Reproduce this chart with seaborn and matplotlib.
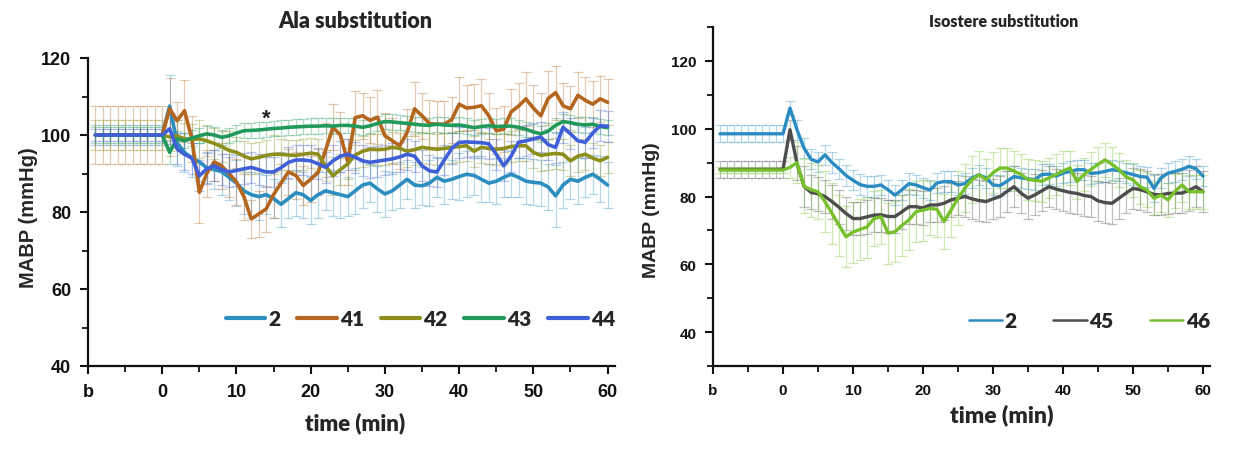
import numpy as np
import pandas as pd
import matplotlib
matplotlib.use("Agg")
import matplotlib.pyplot as plt
from matplotlib.ticker import MultipleLocator, FixedLocator
import seaborn as sns

# ---------------- data ----------------
base_times = [-9, -8, -7, -6, -5, -4, -3, -2, -1, 0]
times = list(range(1, 61))
xtick_pos = [-10, 0, 10, 20, 30, 40, 50, 60]
xtick_labels = ["b", "0", "10", "20", "30", "40", "50", "60"]

# Ala substitution panel
ala_names = ["2", "41", "42", "43", "44"]
ala_colors = ["#2c8dbf", "#b5661e", "#8e8e1d", "#21995b", "#3f5fd8"]
ala_base = [100, 100, 100, 100, 100]
ala_base_err = [2.5, 7.5, 4.0, 2.0, 1.5]

ala_2 = [107.5, 98, 95.5, 94, 93, 91.5, 91, 90.5, 89, 87.5,
         85.5, 84.5, 84, 84.5, 83.5, 82, 83.5, 85, 84.5, 83,
         84.5, 85.5, 85, 84.5, 84, 85.5, 87, 87.5, 86, 84.7,
         85.5, 87, 88.5, 87, 86.8, 87.5, 89, 88, 88.5, 89.2,
         89.8, 89.5, 88.5, 87.5, 88, 89, 89.8, 89, 88, 87.7,
         87.5, 86.5, 84.2, 87, 88.5, 88, 89, 89.8, 88.5, 87]
ala_41 = [106.8, 103.7, 106.3, 99, 85.1, 90, 93, 92, 90, 87.8,
          84, 78.2, 79.5, 80.8, 84.5, 87.5, 90.4, 89.5, 86.9, 88.5,
          90.3, 96, 102, 100, 93, 104.5, 105, 103.8, 104.6, 99.8,
          98.5, 97.2, 100.7, 106.8, 105, 103, 102.8, 102.8, 104, 108,
          107, 107.2, 107.6, 105, 101.1, 101.5, 106, 107.5, 109.4, 107,
          105, 109.5, 111, 107.6, 106.8, 110.3, 109, 108, 109.4, 108.5]
ala_42 = [99.5, 99.8, 99, 98.8, 99, 98.5, 97.8, 97, 96, 95.5,
          94.5, 93.8, 94.2, 94.7, 95, 95, 94.8, 94.7, 95, 95.3,
          95, 92, 89.4, 91, 92.5, 94.8, 95.8, 96.3, 96.2, 96.3,
          96.8, 96.5, 95.8, 96.2, 96.8, 96.5, 96.3, 96.5, 96.8, 97,
          97.2, 95.8, 96.8, 96.5, 96.3, 96.5, 97, 97.2, 97.2, 95.5,
          94.7, 95, 95.2, 95, 93.3, 94.5, 95, 94, 93.3, 94.2]
ala_43 = [95.5, 99, 98.5, 99.2, 99.8, 100.3, 100, 99.4, 99.8, 100.5,
          101.1, 101.2, 101.3, 101.5, 101.7, 101.8, 102, 102.1, 102.2, 102.3,
          102.3, 102.4, 102.3, 102.5, 102.5, 102.3, 102, 102.4, 103, 103.5,
          103.4, 103.2, 103, 102.8, 102.6, 102.5, 102.8, 102.6, 102.5, 102.6,
          102.3, 101.9, 102.2, 102.4, 102.2, 102.3, 102.3, 102, 101.5, 100.8,
          100.3, 101, 102.5, 103.5, 103.2, 102.8, 102.6, 102.8, 102.2, 101.9]
ala_44 = [101.6, 96.4, 95, 94, 89.4, 91.2, 92, 91, 90.4, 90.8,
          91.2, 91.6, 91, 90.4, 90.4, 91.5, 92.9, 93.5, 93.5, 93.3,
          92.5, 91.6, 93.3, 94.5, 95, 94.2, 93.3, 92.9, 93.2, 93.5,
          93.8, 94.3, 95, 94.5, 92, 90.7, 90.4, 93.5, 96.5, 98.1,
          98.2, 98.1, 98, 97.7, 95, 92, 94.5, 98.1, 98.5, 99,
          99.5, 97.5, 96.8, 102, 100.3, 98.5, 98.1, 100.5, 102.4, 102.3]

ala_2_err = [8, 6, 5, 5, 5, 4, 5, 6, 6, 6,
             6, 6, 6, 5, 5, 6, 5, 6, 6, 6,
             6, 5, 6, 6, 5, 6, 6, 5, 6, 6,
             5, 6, 5, 6, 5, 6, 5, 6, 5, 6,
             6, 5, 6, 5, 6, 5, 6, 5, 6, 6,
             6, 6, 8, 6, 5, 6, 5, 5, 6, 6]
ala_41_err = [8, 5, 8, 6, 8, 6, 5, 6, 6, 6,
              6, 5, 6, 6, 6, 5, 6, 6, 5, 6,
              6, 7, 6, 6, 6, 7, 6, 6, 7, 6,
              6, 6, 6, 7, 6, 6, 6, 6, 6, 7,
              6, 6, 7, 6, 6, 6, 6, 6, 7, 6,
              6, 7, 7, 6, 6, 6, 6, 6, 6, 6]
ala_42_err = [5, 4, 4, 4, 5, 4, 4, 4, 5, 4,
              4, 4, 4, 4, 5, 4, 4, 4, 4, 4,
              4, 4, 5, 4, 4, 4, 4, 4, 4, 4,
              4, 4, 4, 4, 4, 4, 4, 4, 4, 4,
              4, 4, 4, 4, 4, 4, 4, 4, 4, 4,
              4, 4, 4, 4, 4, 4, 4, 4, 4, 4]
ala_43_err = [3, 2, 2, 2, 2, 2, 2, 2, 2, 2,
              2, 2, 2, 2, 2, 2, 2, 2, 2, 2,
              2, 2, 2, 2, 2, 2, 2, 2, 2, 2,
              2, 2, 2, 2, 2, 2, 2, 2, 2, 2,
              2, 2, 2, 2, 2, 2, 2, 2, 2, 2,
              2, 2, 2, 2, 2, 2, 2, 2, 2, 2]
ala_44_err = [4, 4, 4, 4, 4, 4, 4, 4, 4, 4,
              4, 4, 4, 4, 4, 4, 4, 4, 4, 4,
              4, 4, 4, 4, 4, 4, 4, 4, 4, 4,
              4, 4, 4, 4, 4, 4, 4, 4, 4, 4,
              4, 4, 4, 4, 4, 4, 4, 4, 4, 4,
              4, 4, 4, 4, 4, 4, 4, 4, 4, 4]

# Isostere substitution panel
iso_names = ["2", "45", "46"]
iso_colors = ["#2b8cc4", "#4d4d4d", "#76c02c"]
iso_base = [98.5, 88.0, 87.8]
iso_base_err = [2.5, 2.5, 1.0]

iso_2 = [106.1, 99.7, 94.3, 91, 90.2, 92.3, 90, 88.2, 86.2, 84.8,
         83.5, 83, 83, 83.4, 82, 80.4, 82, 83.8, 83.4, 82.6,
         81.9, 84, 84.4, 84.4, 83.4, 83.8, 85.5, 86.4, 85.5, 83.4,
         83.2, 84.5, 85.9, 85.5, 85.2, 85, 86.5, 86.6, 86, 86.9,
         87.4, 87.9, 87.9, 86.8, 87, 87.4, 87.9, 87.6, 87, 86.5,
         85.9, 85.7, 82.4, 85.5, 86.9, 87.4, 88, 88.9, 88.2, 86]
iso_45 = [99.7, 89.8, 83, 81.2, 80.8, 80, 78.5, 76.8, 75, 73.5,
          73.5, 74, 74.5, 74.6, 74.1, 74.1, 75.5, 77, 77, 76.6,
          77.5, 77.5, 78, 79, 79.5, 80, 79.3, 78.8, 78.5, 79.3,
          80, 81.5, 82.9, 81, 79.5, 80.5, 81.7, 82.9, 82.2, 81.7,
          81.2, 80.9, 80.3, 80, 78.7, 78.2, 78, 79.5, 81, 82.4,
          82, 81.4, 80.6, 80.5, 80.9, 81, 81, 81.8, 82.9, 81.4]
iso_46 = [88.6, 90, 83, 82, 81.4, 78.5, 75, 71.5, 68.1, 69.5,
          70.3, 71, 73.5, 74, 69.2, 69.6, 71.5, 73.1, 75.5, 76,
          76.5, 76.2, 72.6, 76, 79.5, 82.5, 85, 86.4, 85, 87,
          88.4, 88.4, 87.5, 86.5, 85, 84.8, 84.5, 85.5, 86.5, 87.5,
          88.4, 84.4, 86.5, 88, 89.5, 90.8, 89.5, 87.9, 85.8, 84.9,
          82.9, 81.9, 79.5, 80.4, 79, 81.5, 83.4, 81.4, 81.4, 81.4]

iso_2_err = [2, 3, 3, 3, 3, 3, 3, 3, 3, 3,
             3, 3, 3, 3, 3, 3, 3, 3, 3, 3,
             3, 3, 3, 3, 3, 3, 3, 3, 3, 3,
             3, 3, 3, 3, 3, 3, 3, 3, 3, 3,
             3, 3, 3, 3, 3, 3, 3, 3, 3, 3,
             3, 3, 4, 3, 3, 3, 3, 3, 3, 3]
iso_45_err = [3, 5, 6, 5, 5, 5, 5, 5, 5, 5,
              5, 5, 5, 5, 5, 5, 5, 5, 5, 5,
              5, 5, 5, 5, 5, 6, 6, 6, 6, 6,
              6, 6, 6, 6, 6, 6, 6, 6, 6, 6,
              6, 6, 6, 6, 6, 6, 6, 6, 6, 6,
              6, 6, 6, 6, 6, 6, 6, 6, 6, 6]
iso_46_err = [3, 6, 8, 8, 8, 9, 9, 9, 9, 9,
              9, 9, 8, 8, 9, 9, 9, 9, 9, 9,
              8, 8, 8, 8, 8, 7, 7, 7, 6, 6,
              6, 6, 6, 6, 6, 6, 6, 6, 6, 6,
              5, 5, 5, 5, 5, 5, 5, 5, 5, 5,
              5, 5, 5, 5, 5, 5, 5, 5, 5, 5]

# ---------------- style ----------------
sns.set_style("ticks")
plt.rcParams["font.family"] = ["Liberation Sans", "DejaVu Sans"]
plt.rcParams["font.weight"] = "bold"
plt.rcParams["axes.labelweight"] = "bold"
HUM = ["Lato", "DejaVu Sans"]

fig = plt.figure(figsize=(12.41, 4.52), dpi=100)
fig.patch.set_facecolor("white")

ax1 = fig.add_axes([88 / 1241, 1 - 367 / 452, (615 - 88) / 1241, (367 - 59) / 452])
ax2 = fig.add_axes([713 / 1241, 1 - 367 / 452, (1210 - 713) / 1241, (367 - 28) / 452])


def draw_panel(ax, names, colors, bases, base_errs, series, errs, lw, tsize):
    rows = []
    for name, base, ser in zip(names, bases, series):
        for t in base_times:
            rows.append((t, base, name))
        for t, v in zip(times, ser):
            rows.append((t, v, name))
    df = pd.DataFrame(rows, columns=["time", "MABP", "compound"])
    for name, col, base, be, ser, er in zip(names, colors, bases, base_errs, series, errs):
        xs = base_times + times
        ys = [base] * len(base_times) + list(ser)
        es = [be] * len(base_times) + list(er)
        ax.errorbar(xs, ys, yerr=es, fmt="none", ecolor=col, elinewidth=0.9,
                    capsize=3.5, capthick=0.9, alpha=0.35, zorder=1)
    sns.lineplot(data=df, x="time", y="MABP", hue="compound", hue_order=names,
                 palette=dict(zip(names, colors)), linewidth=lw, ax=ax,
                 estimator=None, sort=True, zorder=3)
    ax.set_xlim(-10, 61)
    ax.xaxis.set_major_locator(FixedLocator(xtick_pos))
    ax.set_xticklabels(xtick_labels)
    ax.xaxis.set_minor_locator(FixedLocator([-5, 5, 15, 25, 35, 45, 55]))
    ax.yaxis.set_major_locator(MultipleLocator(20))
    ax.yaxis.set_minor_locator(MultipleLocator(10))
    for s in ["top", "right"]:
        ax.spines[s].set_visible(False)
    for s in ["left", "bottom"]:
        ax.spines[s].set_linewidth(1.6)
        ax.spines[s].set_color("#111111")
    ax.tick_params(axis="both", which="major", length=6, width=1.5, labelsize=tsize,
                   direction="out", colors="#111111", pad=6)
    ax.tick_params(axis="both", which="minor", length=4, width=1.3, direction="out",
                   colors="#111111")
    for lab in ax.get_xticklabels() + ax.get_yticklabels():
        lab.set_fontweight("bold")
    ax.set_xlabel("")
    ax.set_ylabel("")
    ax.set_facecolor("white")


draw_panel(ax1, ala_names, ala_colors, ala_base, ala_base_err,
           [ala_2, ala_41, ala_42, ala_43, ala_44],
           [ala_2_err, ala_41_err, ala_42_err, ala_43_err, ala_44_err], 2.6, 13)
ax1.set_ylim(40, 120)

draw_panel(ax2, iso_names, iso_colors, iso_base, iso_base_err,
           [iso_2, iso_45, iso_46],
           [iso_2_err, iso_45_err, iso_46_err], 2.4, 11)
ax2.set_ylim(30, 130)

# legends
h1, l1 = ax1.get_legend_handles_labels()
leg1 = ax1.legend(h1, l1, loc="center right", bbox_to_anchor=(1.0, 0.153), ncol=5,
                  frameon=False, handlelength=1.9, handletextpad=0.15, columnspacing=0.8,
                  borderaxespad=0.0, borderpad=0.0,
                  prop={"family": HUM, "weight": "heavy", "size": 15})
for ln in leg1.get_lines():
    ln.set_linewidth(3.0)

h2, l2 = ax2.get_legend_handles_labels()
leg2 = ax2.legend(h2, l2, loc="center right", bbox_to_anchor=(1.0, 0.133), ncol=3,
                  frameon=False, handlelength=1.6, handletextpad=0.12, columnspacing=1.75,
                  borderaxespad=0.0, borderpad=0.0,
                  prop={"family": HUM, "weight": "heavy", "size": 15})
for ln in leg2.get_lines():
    ln.set_linewidth(1.8)

# asterisk
ax1.text(14, 104.3, "*", ha="center", va="center", fontsize=16, fontweight="bold",
         color="#222222")

# titles and labels
fig.text(355 / 1241, 1 - 22 / 452, "Ala substitution", ha="center", va="center",
         fontsize=15.5, fontweight="heavy", family=HUM)
fig.text(1004 / 1241, 1 - 22 / 452, "Isostere substitution", ha="center", va="center",
         fontsize=11.5, fontweight="heavy", family=HUM)
fig.text(355 / 1241, 1 - 423 / 452, "time (min)", ha="center", va="center",
         fontsize=16, fontweight="heavy", family=HUM)
fig.text(1002 / 1241, 1 - 415 / 452, "time (min)", ha="center", va="center",
         fontsize=16.5, fontweight="heavy", family=HUM)
fig.text(28 / 1241, 1 - 218 / 452, "MABP (mmHg)", ha="center", va="center",
         rotation=90, fontsize=14.5, fontweight="bold")
fig.text(652 / 1241, 1 - 210 / 452, "MABP (mmHg)", ha="center", va="center",
         rotation=90, fontsize=14, fontweight="bold")

fig.savefig("out.png", dpi=100, facecolor="white")
